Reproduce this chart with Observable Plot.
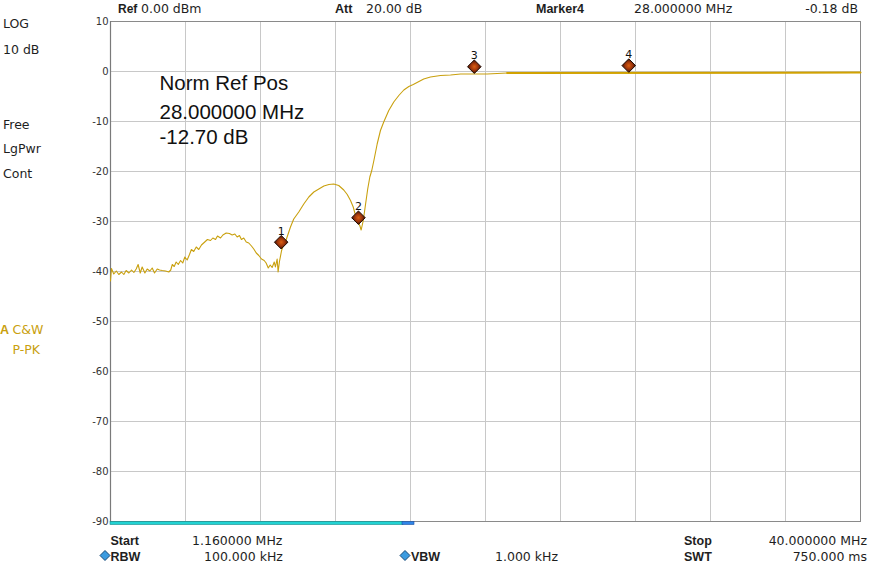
<!DOCTYPE html>
<html>
<head>
<meta charset="utf-8">
<script src="https://cdn.jsdelivr.net/npm/d3@7"></script>
<script src="https://cdn.jsdelivr.net/npm/@observablehq/plot@0.6"></script>
<style>
  html, body { margin: 0; padding: 0; background: #fff; }
  #chart { width: 869px; height: 563px; }
</style>
</head>
<body>
<div id="chart"></div>
<script>
// ---- Sweep settings ----
const startMHz = 1.16;
const stopMHz = 40;
const divisions = 10;

// ---- Trace (frequency in MHz, level in dB) ----
const freqMHz = [
  1.16, 1.21, 1.33, 1.46, 1.59, 1.73, 1.85, 1.97, 2.11, 2.25, 2.37, 2.49, 2.59, 2.70, 2.80,
  2.94, 3.06, 3.20, 3.32, 3.44, 3.58, 3.70, 3.84, 4.01, 4.18, 4.28, 4.36, 4.46, 4.56, 4.67,
  4.79, 4.90, 5.01, 5.13, 5.25, 5.35, 5.47, 5.60, 5.73, 5.87, 6.04, 6.18, 6.34, 6.46, 6.60,
  6.70, 6.86, 6.98, 7.15, 7.32, 7.46, 7.60, 7.72, 7.84, 7.94, 8.06, 8.19, 8.32, 8.46, 8.58,
  8.71, 8.84, 8.98, 9.12, 9.22, 9.33, 9.43, 9.53, 9.64, 9.70, 9.79, 9.84, 9.91, 10.02, 10.13,
  10.22, 10.48, 10.65, 10.91, 11.17, 11.43, 11.69, 11.95, 12.21, 12.47, 12.72, 12.98, 13.24,
  13.42, 13.59, 13.73, 13.85, 13.97, 14.07, 14.14, 14.25, 14.37, 14.48, 14.59, 14.69, 14.80,
  14.97, 15.14, 15.31, 15.57, 15.83, 16.09, 16.35, 16.61, 16.84, 17.38, 17.73, 18.25, 18.77,
  19.29, 19.97, 20.67, 21.70, 22.39, 40.00
];
const levelDb = [
  -41.9, -39.4, -40.5, -39.9, -40.6, -40.1, -40.6, -39.8, -40.3, -39.7, -40.2, -39.5, -38.6, -40.3, -39.1,
  -40.3, -39.5, -39.9, -39.3, -40.3, -39.5, -39.7, -39.8, -39.9, -40.1, -39.7, -38.6, -39.0, -38.1, -38.6,
  -37.8, -38.3, -37.1, -37.7, -36.6, -35.6, -36.0, -35.1, -35.6, -34.7, -34.1, -33.6, -33.8, -33.3, -33.6,
  -32.9, -33.3, -32.7, -32.3, -32.4, -32.7, -32.5, -33.1, -32.8, -33.6, -33.3, -34.1, -34.3, -34.9, -35.5,
  -36.3, -36.8, -37.5, -37.8, -38.3, -39.3, -38.7, -39.2, -38.1, -39.1, -37.5, -40.1, -38.0, -35.8, -34.5,
  -34.1, -31.1, -29.5, -28.1, -26.5, -25.1, -24.1, -23.5, -22.9, -22.6, -22.5, -22.8, -23.7,
  -24.6, -25.8, -27.1, -28.8, -30.1, -30.8, -31.7, -29.8, -26.5, -23.5, -21.1, -19.8, -17.8,
  -14.5, -11.8, -10.1, -7.8, -6.1, -4.8, -3.7, -3.0, -2.6, -1.5, -1.1, -0.8, -0.7,
  -0.5, -0.5, -0.5, -0.3, -0.3, -0.2
];

// ---- Markers ----
const markerIds = ["1", "2", "3", "4"];
const markerMHz = [10, 14, 20, 28];
const markerDb = [-35.5, -30.6, -0.4, -0.18];

// ---- Axis ticks ----
const yTicks = [10, 0, -10, -20, -30, -40, -50, -60, -70, -80, -90];

// ---- Build tables ----
const trace = freqMHz.map((f, i) => ({ f, db: levelDb[i] }));
const markers = markerIds.map((id, i) => ({ id, f: markerMHz[i], db: markerDb[i] }));
const xGrid = d3.range(divisions + 1).map(k => startMHz + k * (stopMHz - startMHz) / divisions);

const gold = "#c9a00e";

const plot = Plot.plot({
  width: 869,
  height: 563,
  marginLeft: 110,
  marginRight: 9,
  marginTop: 21,
  marginBottom: 42,
  x: { domain: [startMHz, stopMHz], axis: null },
  y: { domain: [-90, 10], axis: null },
  style: { fontFamily: "DejaVu Sans", background: "#fff", overflow: "visible" },
  marks: [
    Plot.ruleY(yTicks, { stroke: "#c8c8c8", strokeWidth: 1 }),
    Plot.ruleX(xGrid, { stroke: "#c8c8c8", strokeWidth: 1 }),
    Plot.frame({ stroke: "#8a8a8a", strokeWidth: 1 }),
    Plot.ruleX([startMHz], { stroke: "#7a7a7a", strokeWidth: 1.2 }),
    Plot.axisY({ ticks: yTicks, tickSize: 0, tickPadding: 2, tickFormat: d => String(d),
                 fontSize: 10, color: "#333", label: null }),
    Plot.line(trace, { x: "f", y: "db", stroke: gold, strokeWidth: 1.1 }),
    Plot.line(trace.filter(d => d.f >= 21.7), { x: "f", y: "db", stroke: "#d1a200", strokeWidth: 2 }),
    Plot.dot(markers, { x: "f", y: "db", symbol: "diamond2", r: 6.1, dy: -6.8,
                        fill: "url(#mkGrad)", stroke: "#1e0800", strokeWidth: 1 }),
    Plot.text(markers, { x: "f", y: "db", text: "id", dy: -18, fontSize: 11, fill: "#111" })
  ]
});

document.getElementById("chart").appendChild(plot);

// ---- Decorations: gradient, instrument annotations ----
const svg = d3.select(plot);
const defs = svg.insert("defs", ":first-child");
const grad = defs.append("radialGradient").attr("id", "mkGrad");
grad.append("stop").attr("offset", "0%").attr("stop-color", "#dc6012");
grad.append("stop").attr("offset", "55%").attr("stop-color", "#9c340a");
grad.append("stop").attr("offset", "100%").attr("stop-color", "#3c1002");

// sweep bar under the graticule
const bar = svg.append("g");
bar.append("rect").attr("x", 110).attr("y", 521.5).attr("width", 293).attr("height", 3)
  .attr("fill", "#22d3d3").attr("stroke", "#138a8a").attr("stroke-width", 0.6);
bar.append("rect").attr("x", 402).attr("y", 521.5).attr("width", 12).attr("height", 3)
  .attr("fill", "#2f86e8").attr("stroke", "#1c4fa0").attr("stroke-width", 0.6);

const reg = "DejaVu Sans";
const bold = "Liberation Sans";
const labels = [
  // header
  { t: "Ref", x: 118, y: 12.5, b: true, s: 12 },
  { t: "0.00 dBm", x: 141, y: 12.5 },
  { t: "Att", x: 335, y: 12.5, b: true },
  { t: "20.00 dB", x: 366, y: 12.5 },
  { t: "Marker4", x: 536, y: 12.5, b: true },
  { t: "28.000000 MHz", x: 634, y: 12.5 },
  { t: "-0.18 dB", x: 858, y: 12.5, end: true },
  // left side
  { t: "LOG", x: 3, y: 28 },
  { t: "10 dB", x: 3, y: 54 },
  { t: "Free", x: 3, y: 129 },
  { t: "LgPwr", x: 3, y: 153 },
  { t: "Cont", x: 3, y: 178 },
  { t: "A", x: 0, y: 334, b: true, c: gold },
  { t: "C&W", x: 12.5, y: 334, c: gold },
  { t: "P-PK", x: 12.5, y: 354, c: gold },
  // footer
  { t: "Start", x: 110.5, y: 544.5, b: true },
  { t: "1.160000 MHz", x: 192, y: 544.5 },
  { t: "RBW", x: 110.5, y: 561, b: true },
  { t: "100.000 kHz", x: 204, y: 561 },
  { t: "VBW", x: 411, y: 561, b: true },
  { t: "1.000 kHz", x: 495, y: 561 },
  { t: "Stop", x: 684, y: 544.5, b: true },
  { t: "40.000000 MHz", x: 867, y: 544.5, end: true },
  { t: "SWT", x: 684, y: 561, b: true },
  { t: "750.000 ms", x: 867, y: 561, end: true }
];
const g = svg.append("g").attr("text-anchor", "start");
labels.forEach(l => {
  g.append("text").attr("x", l.x).attr("y", l.y)
    .attr("font-family", l.b ? bold : reg)
    .attr("font-weight", l.b ? "bold" : "normal")
    .attr("font-size", l.s || 12.5)
    .attr("text-anchor", l.end ? "end" : "start")
    .attr("fill", l.c || "#1e1e1e")
    .text(l.t);
});
// blue diamonds before RBW / VBW
[[105, 555.5], [405, 555.5]].forEach(([cx, cy]) => {
  g.append("path").attr("d", `M${cx},${cy - 5}L${cx + 5},${cy}L${cx},${cy + 5}L${cx - 5},${cy}Z`)
    .attr("fill", "#3b9be0").attr("stroke", "#174a78").attr("stroke-width", 1);
});

// big annotation
const ann = [
  { t: "Norm Ref Pos", y: 90 },
  { t: "28.000000 MHz", y: 118.5 },
  { t: "-12.70 dB", y: 143.5 }
];
ann.forEach(a => {
  g.append("text").attr("x", 159.5).attr("y", a.y)
    .attr("text-anchor", "start")
    .attr("font-family", "Liberation Sans").attr("font-size", 20.5)
    .attr("fill", "#111").text(a.t);
});
</script>
</body>
</html>
